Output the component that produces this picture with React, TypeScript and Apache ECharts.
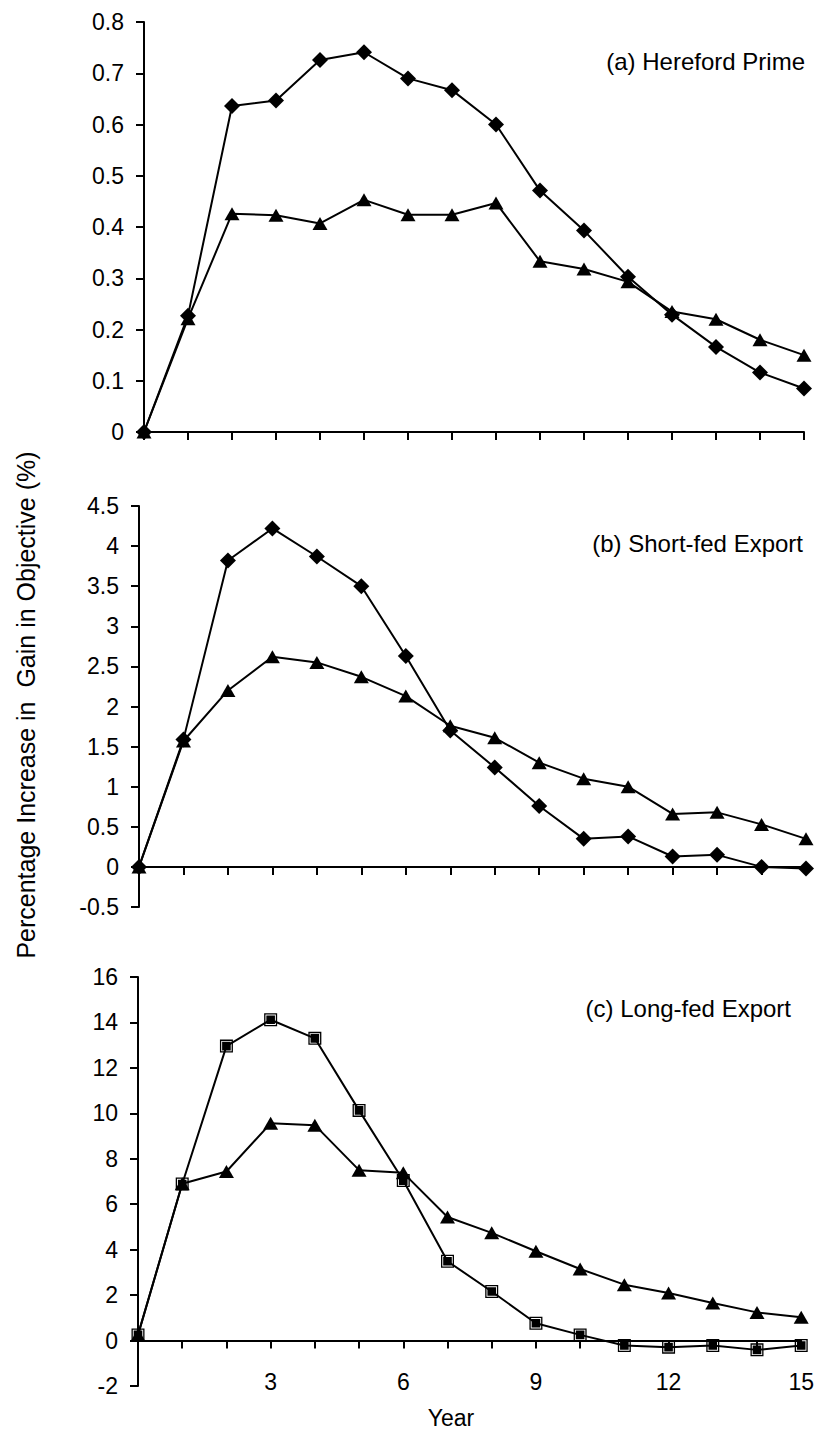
import React, { useEffect, useRef } from "react";
import * as echarts from "echarts";

// Years after adoption
const years = [0, 1, 2, 3, 4, 5, 6, 7, 8, 9, 10, 11, 12, 13, 14, 15];

// (a) Hereford Prime
const primeDiamond = [0, 0.227, 0.636, 0.647, 0.726, 0.741, 0.69, 0.667, 0.6, 0.471, 0.393, 0.303, 0.229, 0.166, 0.116, 0.085];
const primeTriangle = [0, 0.221, 0.426, 0.423, 0.407, 0.453, 0.424, 0.424, 0.447, 0.333, 0.318, 0.293, 0.235, 0.22, 0.18, 0.15];

// (b) Short-fed Export
const shortDiamond = [0, 1.59, 3.82, 4.22, 3.87, 3.5, 2.63, 1.7, 1.24, 0.76, 0.35, 0.38, 0.13, 0.15, 0.0, -0.02];
const shortTriangle = [0, 1.57, 2.2, 2.62, 2.55, 2.37, 2.13, 1.76, 1.61, 1.3, 1.1, 1.0, 0.66, 0.68, 0.53, 0.35];

// (c) Long-fed Export
const longSquare = [0.25, 6.89, 12.96, 14.12, 13.3, 10.13, 7.04, 3.49, 2.16, 0.76, 0.25, -0.22, -0.29, -0.22, -0.41, -0.22];
const longTriangle = [0.25, 6.9, 7.44, 9.56, 9.48, 7.5, 7.38, 5.44, 4.74, 3.93, 3.15, 2.46, 2.09, 1.65, 1.24, 1.03];

// Year tick labels shown under the bottom panel
const yearLabels = [3, 6, 9, 12, 15];

const FONT = "'Liberation Sans', Arial, sans-serif";
const BLACK = "#000";

// Filled square with a thin light inner ring
const SQUARE_SYMBOL =
  "path://M0,0H13V13H0Z M1.3,1.3V11.7H11.7V1.3Z M2.2,2.2H10.8V10.8H2.2Z";

const pairs = (vals: number[]) => years.map((y, i) => [y, vals[i]]);

const lineSeries = (
  vals: number[],
  axisIndex: number,
  symbol: string,
  size: number | number[]
) => ({
  type: "line",
  xAxisIndex: axisIndex,
  yAxisIndex: axisIndex,
  data: pairs(vals),
  symbol,
  symbolSize: size,
  showSymbol: true,
  lineStyle: { color: BLACK, width: 2 },
  itemStyle: { color: BLACK, borderWidth: 0 },
  z: 3,
});

const xAxisBase = (gridIndex: number) => ({
  type: "value",
  gridIndex,
  min: 0,
  max: 15,
  interval: 1,
  axisLine: { show: true, onZero: true, lineStyle: { color: BLACK, width: 2 } },
  axisTick: { show: true, length: 8, lineStyle: { color: BLACK, width: 2 } },
  axisLabel: { show: false },
  splitLine: { show: false },
});

const yAxisBase = (gridIndex: number, min: number, max: number, interval: number) => ({
  type: "value",
  gridIndex,
  min,
  max,
  interval,
  axisLine: { show: true, onZero: false, lineStyle: { color: BLACK, width: 2 } },
  axisTick: { show: true, length: 8, lineStyle: { color: BLACK, width: 2 } },
  axisLabel: { color: BLACK, fontSize: 23, fontFamily: FONT, margin: 20 },
  splitLine: { show: false },
});

export default function App() {
  const ref = useRef<HTMLDivElement>(null);

  useEffect(() => {
    document.body.style.margin = "0";
    if (!ref.current) return;
    const chart = echarts.init(ref.current, undefined, { renderer: "svg" });

    const option = {
      animation: false,
      backgroundColor: "#fff",
      grid: [
        { left: 144, top: 22, width: 660, height: 410 },
        { left: 139, top: 506, width: 667, height: 401 },
        { left: 138, top: 977, width: 667, height: 409 },
      ],
      xAxis: [
        xAxisBase(0),
        xAxisBase(1),
        xAxisBase(2),
        {
          type: "value",
          gridIndex: 2,
          min: 0,
          max: 15,
          interval: 1,
          position: "bottom",
          axisLine: { show: false, onZero: false },
          axisTick: { show: false },
          splitLine: { show: false },
          axisLabel: {
            color: BLACK,
            fontSize: 23,
            fontFamily: FONT,
            margin: -16,
            formatter: (v: number) => (yearLabels.includes(v) ? String(v) : ""),
          },
        },
      ],
      yAxis: [
        yAxisBase(0, 0, 0.8, 0.1),
        yAxisBase(1, -0.5, 4.5, 0.5),
        yAxisBase(2, -2, 16, 2),
      ],
      series: [
        lineSeries(primeDiamond, 0, "diamond", [16, 16]),
        lineSeries(primeTriangle, 0, "triangle", [15, 13]),
        lineSeries(shortDiamond, 1, "diamond", [16, 16]),
        lineSeries(shortTriangle, 1, "triangle", [15, 13]),
        lineSeries(longSquare, 2, SQUARE_SYMBOL, [13, 13]),
        lineSeries(longTriangle, 2, "triangle", [15, 13]),
      ],
      graphic: [
        {
          type: "text",
          x: 805,
          y: 61,
          style: {
            text: "(a) Hereford Prime",
            font: `24px ${FONT}`,
            fill: BLACK,
            align: "right",
            verticalAlign: "middle",
            textAlign: "right",
            textVerticalAlign: "middle",
          },
        },
        {
          type: "text",
          x: 803,
          y: 543,
          style: {
            text: "(b) Short-fed Export",
            font: `24px ${FONT}`,
            fill: BLACK,
            align: "right",
            verticalAlign: "middle",
            textAlign: "right",
            textVerticalAlign: "middle",
          },
        },
        {
          type: "text",
          x: 791,
          y: 1008,
          style: {
            text: "(c) Long-fed Export",
            font: `24px ${FONT}`,
            fill: BLACK,
            align: "right",
            verticalAlign: "middle",
            textAlign: "right",
            textVerticalAlign: "middle",
          },
        },
        {
          type: "text",
          x: 26,
          y: 705,
          rotation: Math.PI / 2,
          style: {
            text: "Percentage Increase in  Gain in Objective (%)",
            font: `25px ${FONT}`,
            fill: BLACK,
            align: "center",
            verticalAlign: "middle",
            textAlign: "center",
            textVerticalAlign: "middle",
          },
        },
        {
          type: "text",
          x: 451,
          y: 1418,
          style: {
            text: "Year",
            font: `23px ${FONT}`,
            fill: BLACK,
            align: "center",
            verticalAlign: "middle",
            textAlign: "center",
            textVerticalAlign: "middle",
          },
        },
      ],
    };

    chart.setOption(option as any);
    return () => chart.dispose();
  }, []);

  return <div ref={ref} style={{ width: 817, height: 1434 }} />;
}
